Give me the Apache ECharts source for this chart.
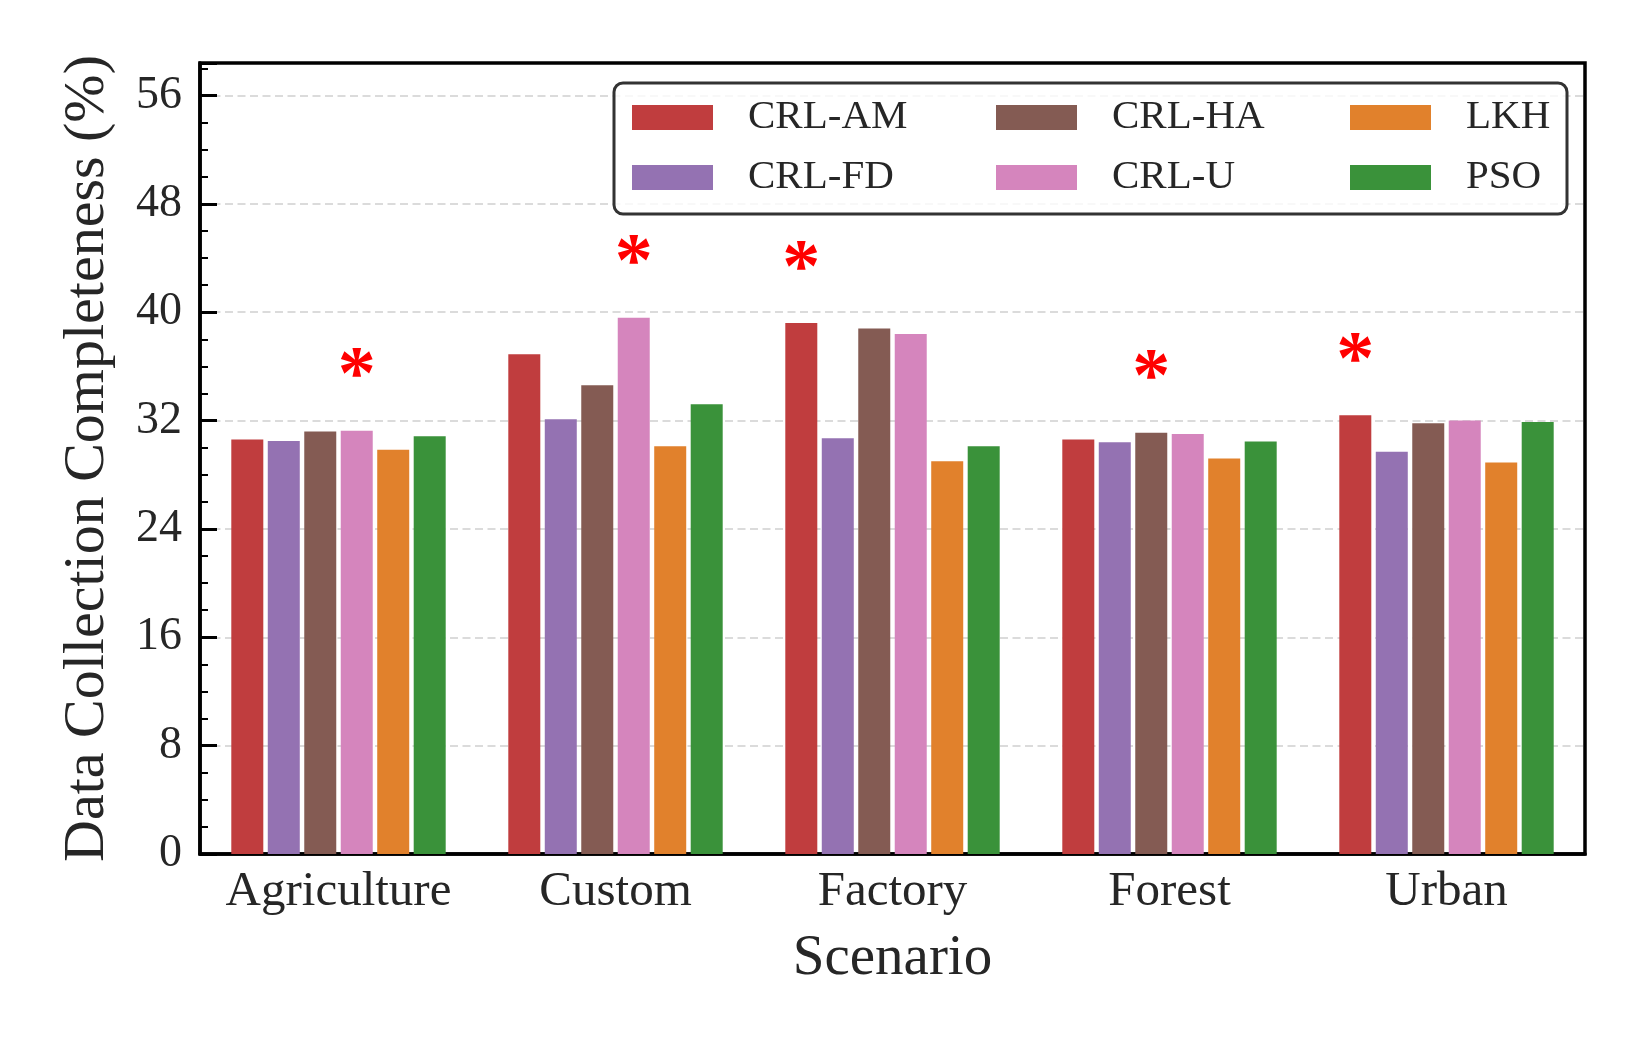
<!DOCTYPE html>
<html lang="en">
<head>
    <meta charset="UTF-8">
    <title>Data Collection Completeness by Scenario</title>
    <script src="https://cdn.jsdelivr.net/npm/echarts@6.0.0/dist/echarts.min.js"></script>
    <style>
        body { margin: 0; background: #fff; }
        #chart { width: 1650px; height: 1050px; }
    </style>
</head>
<body>
    <div id="chart"></div>
    <script>
        // chart data
        const categories = ['Agriculture', 'Custom', 'Factory', 'Forest', 'Urban'];
        const seriesNames = ['CRL-AM', 'CRL-FD', 'CRL-HA', 'CRL-U', 'LKH', 'PSO'];
        const crlAM = [30.6, 36.9, 39.2, 30.6, 32.4];
        const crlFD = [30.5, 32.1, 30.7, 30.4, 29.7];
        const crlHA = [31.2, 34.6, 38.8, 31.1, 31.8];
        const crlU  = [31.25, 39.6, 38.4, 31.0, 32.0];
        const lkh   = [29.85, 30.1, 29.0, 29.2, 28.9];
        const pso   = [30.85, 33.2, 30.1, 30.45, 31.9];
        const yTicks = [0, 8, 16, 24, 32, 40, 48, 56];

        const values = [crlAM, crlFD, crlHA, crlU, lkh, pso];
        const colors = ['#c03d3e', '#9472b2', '#845b53', '#d585bd', '#e1812c', '#3a923a'];
        const FONT = '"Liberation Serif", "Times New Roman", serif';
        const TEXT = '#262626';

        // the best method in each scenario gets a red star
        const best = categories.map((c, i) => {
            let k = 0;
            values.forEach((v, s) => { if (v[i] > values[k][i]) k = s; });
            return k;
        });

        const chart = echarts.init(document.getElementById('chart'));

        const series = seriesNames.map((name, s) => ({
            name: name,
            type: 'bar',
            barWidth: 32,
            barGap: '14%',
            itemStyle: { color: colors[s] },
            data: values[s].map((v, i) => best[i] === s ? {
                value: v,
                label: {
                    show: true, position: 'top', distance: 14,
                    formatter: '*', color: '#ff0000',
                    fontFamily: FONT, fontWeight: 'bold', fontSize: 76
                }
            } : v)
        }));

        function legendCol(names, left) {
            return {
                data: names,
                orient: 'vertical',
                left: left,
                top: 97,
                padding: 0,
                itemGap: 19,
                itemWidth: 81,
                itemHeight: 25,
                icon: 'rect',
                selectedMode: false,
                textStyle: {
                    fontFamily: FONT, fontSize: 41, color: TEXT,
                    lineHeight: 40, padding: [0, 0, 0, 30]
                }
            };
        }

        const option = {
            animation: false,
            backgroundColor: '#fff',
            grid: {
                left: 200, right: 65, top: 63, bottom: 196,
                show: true, borderColor: '#000', borderWidth: 3.5,
                containLabel: false
            },
            legend: [
                legendCol(['CRL-AM', 'CRL-FD'], 632),
                legendCol(['CRL-HA', 'CRL-U'], 996),
                legendCol(['LKH', 'PSO'], 1350)
            ],
            graphic: [{
                type: 'rect',
                z: 3,
                shape: { x: 614, y: 83, width: 953, height: 131, r: 9 },
                style: { fill: 'rgba(255,255,255,0.8)', stroke: '#333', lineWidth: 3 }
            }],
            xAxis: {
                type: 'category',
                data: categories,
                name: 'Scenario',
                nameLocation: 'middle',
                nameGap: 77,
                nameTextStyle: { fontFamily: FONT, fontSize: 57, color: TEXT },
                axisLine: { show: true, lineStyle: { color: '#000', width: 3.5 } },
                axisTick: { show: false },
                axisLabel: { interval: 0, margin: 14, fontFamily: FONT, fontSize: 49, color: TEXT },
                splitLine: { show: false }
            },
            yAxis: [{
                type: 'value',
                min: 0,
                max: 58.4,
                interval: 8,
                name: 'Data Collection Completeness (%)',
                nameLocation: 'middle',
                nameGap: 83,
                nameTextStyle: { fontFamily: FONT, fontSize: 58, color: TEXT },
                axisLine: { show: true, lineStyle: { color: '#000', width: 3.5 } },
                axisTick: { show: true, inside: true, length: 17, lineStyle: { color: '#000', width: 3 } },
                axisLabel: {
                    margin: 18, fontFamily: FONT, fontSize: 46, color: TEXT,
                    formatter: v => yTicks.includes(v) ? String(v) : ''
                },
                splitLine: {
                    show: true, showMinLine: false, showMaxLine: false,
                    lineStyle: { color: '#d0d0d0', width: 1.5, type: [8, 4.5] }
                }
            }, {
                // minor ticks every 2
                type: 'value',
                position: 'left',
                offset: 0,
                min: 0,
                max: 58.4,
                interval: 2,
                axisLine: { show: false },
                axisTick: { show: true, inside: true, length: 8, lineStyle: { color: '#000', width: 2 } },
                axisLabel: { show: false },
                splitLine: { show: false }
            }],
            series: series
        };

        chart.setOption(option);
    </script>
</body>
</html>
